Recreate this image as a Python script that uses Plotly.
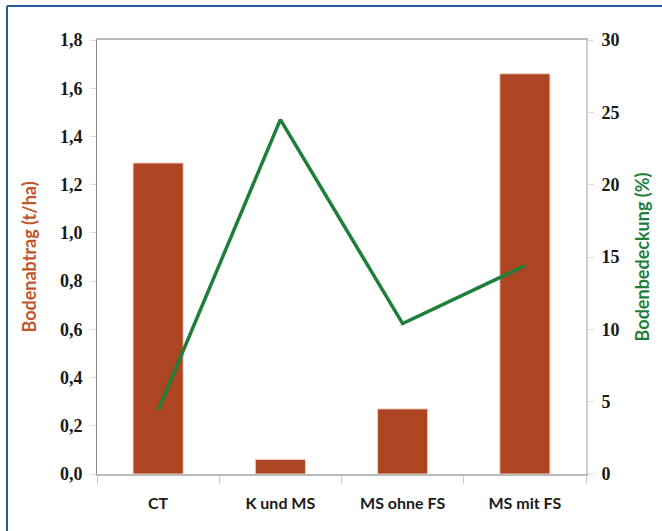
import plotly.graph_objects as go

categories = ["CT", "K und MS", "MS ohne FS", "MS mit FS"]
bodenabtrag = [1.29, 0.06, 0.27, 1.66]
bodenbedeckung = [4.4, 24.5, 10.4, 14.4]

left_ticks = [0.0, 0.2, 0.4, 0.6, 0.8, 1.0, 1.2, 1.4, 1.6, 1.8]
right_ticks = [0, 5, 10, 15, 20, 25, 30]

BAR = "#ad4422"
GREEN = "#1e7e3a"
TICKFONT = dict(family="Liberation Serif", size=18, color="#1a1a1a", weight="bold")

fig = go.Figure()
fig.add_trace(go.Bar(x=categories, y=bodenabtrag, marker=dict(color=BAR, line=dict(color="#f3d2c2", width=1)),
                     width=0.41, yaxis="y", showlegend=False))
fig.add_trace(go.Scatter(x=categories, y=bodenbedeckung, mode="lines", line=dict(color=GREEN, width=3.5),
                         yaxis="y2", showlegend=False))

W, H = 662, 531
l, r, t, b = 97, 76, 40, 57
pw, ph = W - l - r, H - t - b

def px(x):
    return (x - l) / pw

def py(y):
    return (H - b - y) / ph

fig.update_layout(
    width=W, height=H,
    margin=dict(l=l, r=r, t=t, b=b),
    paper_bgcolor="white", plot_bgcolor="white",
    separators=",.",
    xaxis=dict(showline=True, linecolor="#bbbbbb", linewidth=1.5, mirror=True,
               ticks="outside", tickson="boundaries", ticklen=8, tickcolor="#cccccc",
               ticklabelstandoff=14,
               tickfont=dict(family="Lato", size=16, color="#1a1a1a", weight="bold"), showgrid=False),
    yaxis=dict(range=[0, 1.8], tickvals=left_ticks, tickformat=".1f", showline=True,
               linecolor="#888888", linewidth=1, ticks="outside", ticklen=6, tickcolor="#dddddd",
               ticklabelstandoff=4,
               tickfont=TICKFONT, showgrid=False, zeroline=False,
               title=dict(text="<b>Bodenabtrag (t/ha)</b>", font=dict(family="Lato", size=18, color="#c0572b"),
                          standoff=18)),
    yaxis2=dict(range=[0, 30], tickvals=right_ticks, overlaying="y", side="right", showline=True,
                linecolor="#cccccc", linewidth=2, ticks="outside", ticklen=6, tickcolor="#dddddd",
                ticklabelstandoff=4,
                tickfont=TICKFONT, showgrid=False, zeroline=False,
                title=dict(text="<b>Bodenbedeckung (%)</b>", font=dict(family="Lato", size=18, color=GREEN),
                           standoff=18)),
    shapes=[
        dict(type="line", xref="paper", yref="paper", x0=px(7), x1=px(665), y0=py(6), y1=py(6),
             line=dict(color="#1f5f9a", width=2)),
        dict(type="line", xref="paper", yref="paper", x0=px(7), x1=px(7), y0=py(6), y1=py(540),
             line=dict(color="#1f5f9a", width=2)),
    ],
)

fig.write_html("out.html", config={"displayModeBar": False},
               post_script="document.body.style.margin='0';document.body.style.overflow='hidden';")
